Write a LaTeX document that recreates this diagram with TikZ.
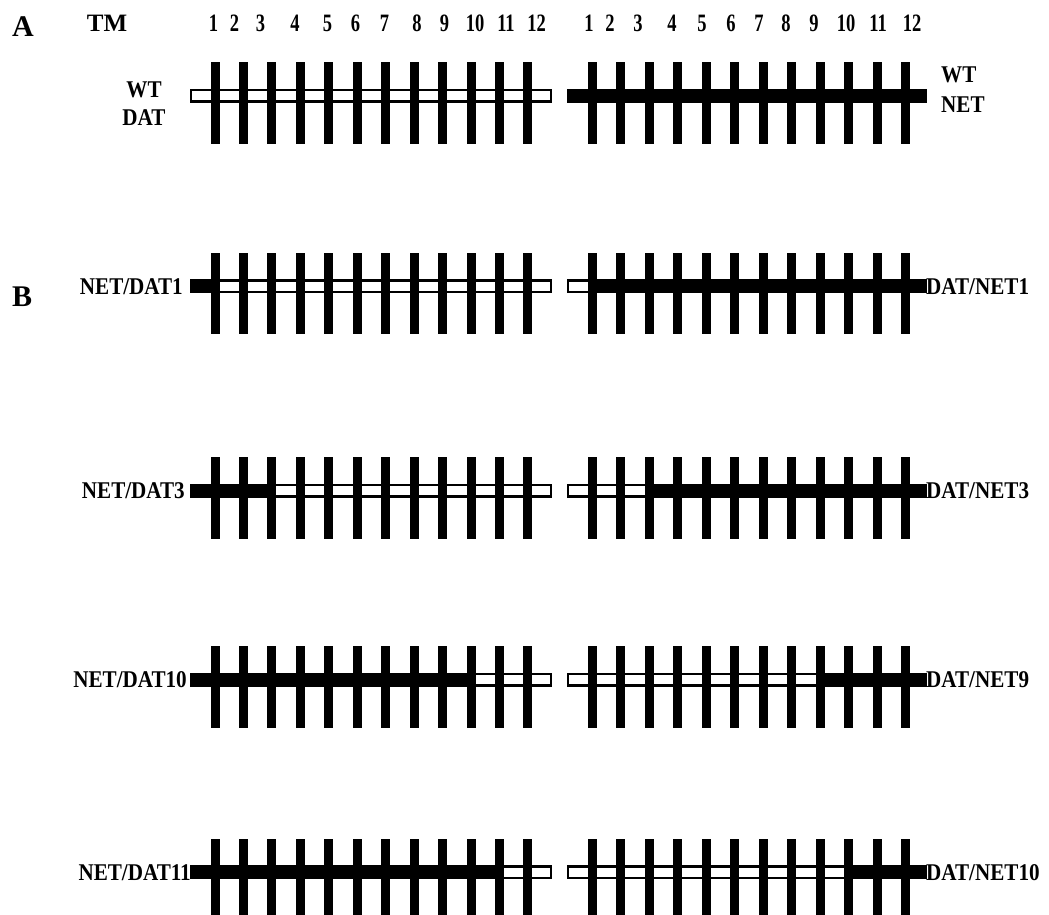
\documentclass[tikz,border=0pt]{standalone}
\usepackage{fontspec}
\setmainfont{Liberation Serif}
\usepackage{graphicx}

% condensed bold lettering
\newcommand{\cond}[2][0.88]{\scalebox{#1}[1]{#2}}

% open (white) bar of a construct: y centre, left x, right x
\newcommand{\genebase}[3]{%
  \draw[openbar] (#2,#1-5.75) rectangle (#3,#1+5.75);}
% solid (black) part of a construct: y centre, from x, to x
\newcommand{\genefill}[3]{%
  \draw[solidbar] (#2,#1-5.75) rectangle (#3,#1+5.75);}
% twelve transmembrane segments: y centre, first x, spacing
\newcommand{\genetm}[3]{%
  \foreach \k in {0,...,11}
    \fill[black] (#2+#3*\k-4.5,#1-33.5) rectangle ++(9,81.5);}

\begin{document}
\begin{tikzpicture}[x=1pt,y=-1pt]
\tikzset{
  openbar/.style={draw=black, fill=white, line width=2.5pt},
  solidbar/.style={draw=black, fill=black, line width=2.5pt},
  lbl/.style={font=\bfseries\fontsize{24}{24}\selectfont, inner sep=0pt},
  num/.style={font=\bfseries\fontsize{25}{25}\selectfont, inner sep=0pt, anchor=base},
  big/.style={font=\bfseries\fontsize{30}{30}\selectfont, inner sep=0pt, anchor=base west},
}
\useasboundingbox (0,0) rectangle (1049,915);
\clip (0,0) rectangle (1049,915);
\fill[white] (0,0) rectangle (1049,915);

% panel letters and header
\node[big] (pA) at (12,37) {A};
\node[big] (pB) at (12,306) {B};
\node[num] (tm) at (107,32) {TM};

% segment numbers, left construct
\foreach \x [count=\i] in {213.5,234.5,260.5,295,327.5,355.5,384.5,417,444.5,475,506,536.5}
  \node[num] (nl\i) at (\x,32) {\cond[0.74]{\i}};
% segment numbers, right construct
\foreach \x [count=\i] in {589,610,638,672,702,731,759,786,814,846,878,912}
  \node[num] (nr\i) at (\x,32) {\cond[0.74]{\i}};

% ---- A: wild-type transporters
\genebase{96}{191}{551}
\genetm{96}{215}{28.45}
\genebase{96}{568}{926}
\genefill{96}{568}{926}
\genetm{96}{592}{28.5}
\node[lbl, anchor=base] (wtl) at (144,98) {\cond{WT}};
\node[lbl, anchor=base] (datl) at (144,126) {\cond{DAT}};
\node[lbl, anchor=base west] (wtr) at (941,83) {\cond{WT}};
\node[lbl, anchor=base west] (netr) at (941,113) {\cond{NET}};

% ---- B: chimeras, row 1
\genebase{286}{191}{551}
\genefill{286}{191}{215}
\genetm{286}{215}{28.45}
\genebase{286}{568}{926}
\genefill{286}{592}{926}
\genetm{286}{592}{28.5}
\node[lbl, anchor=base east] (c1l) at (183,294) {\cond{NET/DAT1}};
\node[lbl, anchor=base west] (c1r) at (926,294) {\cond{DAT/NET1}};

% row 2
\genebase{490.5}{191}{551}
\genefill{490.5}{191}{271.9}
\genetm{490.5}{215}{28.45}
\genebase{490.5}{568}{926}
\genefill{490.5}{649}{926}
\genetm{490.5}{592}{28.5}
\node[lbl, anchor=base east] (c2l) at (185,498.5) {\cond{NET/DAT3}};
\node[lbl, anchor=base west] (c2r) at (926,498.5) {\cond{DAT/NET3}};

% row 3
\genebase{679.5}{191}{551}
\genefill{679.5}{191}{471.05}
\genetm{679.5}{215}{28.45}
\genebase{679.5}{568}{926}
\genefill{679.5}{820}{926}
\genetm{679.5}{592}{28.5}
\node[lbl, anchor=base east] (c3l) at (187,687.5) {\cond{NET/DAT10}};
\node[lbl, anchor=base west] (c3r) at (926,687.5) {\cond{DAT/NET9}};

% row 4
\genebase{872}{191}{551}
\genefill{872}{191}{499.5}
\genetm{872}{215}{28.45}
\genebase{872}{568}{926}
\genefill{872}{848.5}{926}
\genetm{872}{592}{28.5}
\node[lbl, anchor=base east] (c4l) at (191,880) {\cond{NET/DAT11}};
\node[lbl, anchor=base west] (c4r) at (926,880) {\cond{DAT/NET10}};
\end{tikzpicture}
\end{document}
